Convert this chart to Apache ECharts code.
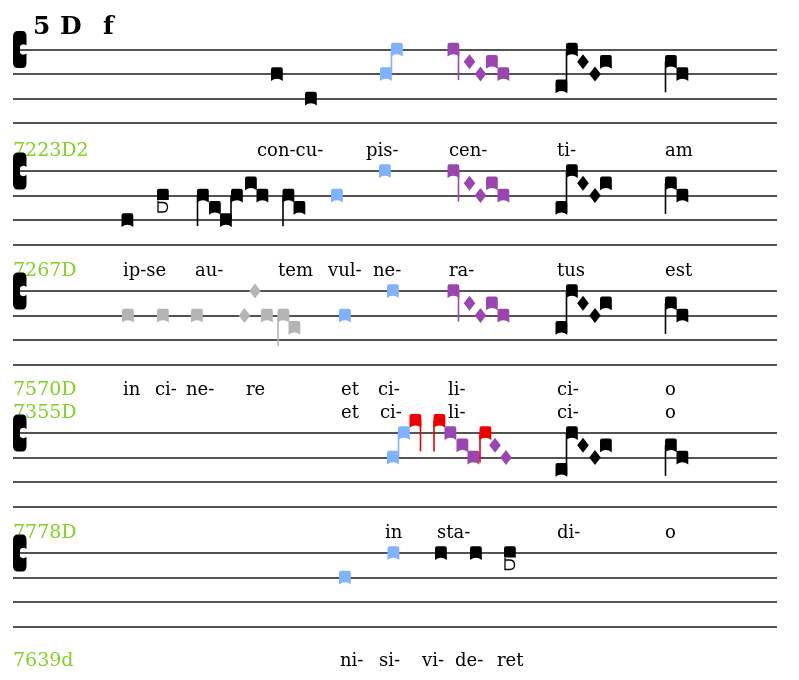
<!DOCTYPE html>
<html><head><meta charset="utf-8">
<script src="https://cdn.jsdelivr.net/npm/echarts@6/dist/echarts.min.js"></script>
<style>html,body{margin:0;padding:0;background:#fff}#c{width:799px;height:680px}</style>
</head><body><div id="c"></div>
<script>
// Each mark: [kind, x (staff axis position), pitch step (0 = bottom line, 6 = top line), colour, stem end pitch]
const staff1Marks = [
  ['clef', 13, 6, 'black'],
  ['punctum', 271, 4, 'black'], ['punctum', 305, 2, 'black'],
  ['punctum', 380, 4, 'blue'], ['stem', 391.5, 4, 'blue', 6], ['punctum', 391, 6, 'blue'],
  ['punctum', 447.5, 6, 'purple'], ['stem', 458.5, 6, 'purple', 3.5],
  ['diamond', 469.5, 5, 'purple'], ['diamond', 480.5, 4, 'purple'],
  ['punctum', 486, 5, 'purple'], ['punctum', 497.5, 4, 'purple'],
  ['punctum', 555.5, 3, 'black'], ['stem', 566.5, 6, 'black', 2.6], ['punctum', 566, 6, 'black'],
  ['diamond', 583, 5, 'black'], ['diamond', 595, 4, 'black'], ['punctum', 600, 5, 'black'],
  ['stem', 665.5, 5, 'black', 2.5], ['punctum', 665, 5, 'black'], ['punctum', 676.5, 4, 'black']
];
const staff2Marks = [
  ['clef', 13, 6, 'black'],
  ['punctum', 121.5, 2, 'black'], ['liquescent', 157, 4, 'black'],
  ['stem', 197.5, 4, 'black', 1.5], ['punctum', 197, 4, 'black'], ['punctum', 209, 3, 'black'], ['punctum', 220, 2, 'black'],
  ['stem', 231, 2, 'black', 4], ['punctum', 231, 4, 'black'],
  ['punctum', 245, 5, 'black'], ['punctum', 256.5, 4, 'black'],
  ['stem', 283, 4, 'black', 1.5], ['punctum', 282.5, 4, 'black'], ['punctum', 293.5, 3, 'black'],
  ['punctum', 331, 4, 'blue'], ['punctum', 379, 6, 'blue'],
  ['punctum', 447.5, 6, 'purple'], ['stem', 458.5, 6, 'purple', 3.5],
  ['diamond', 469.5, 5, 'purple'], ['diamond', 480.5, 4, 'purple'],
  ['punctum', 486, 5, 'purple'], ['punctum', 497.5, 4, 'purple'],
  ['punctum', 555.5, 3, 'black'], ['stem', 566.5, 6, 'black', 2.6], ['punctum', 566, 6, 'black'],
  ['diamond', 583, 5, 'black'], ['diamond', 595, 4, 'black'], ['punctum', 600, 5, 'black'],
  ['stem', 665.5, 5, 'black', 2.5], ['punctum', 665, 5, 'black'], ['punctum', 676.5, 4, 'black']
];
const staff3Marks = [
  ['clef', 13, 6, 'black'],
  ['punctum', 122, 4, 'gray'], ['punctum', 157, 4, 'gray'], ['punctum', 191, 4, 'gray'],
  ['diamond', 244.5, 4, 'gray'], ['diamond', 255, 6, 'gray'], ['punctum', 261, 4, 'gray'],
  ['stem', 278, 4, 'gray', 1.5], ['punctum', 277.5, 4, 'gray'], ['punctum', 288.5, 3, 'gray'],
  ['punctum', 339, 4, 'blue'], ['punctum', 387, 6, 'blue'],
  ['punctum', 447.5, 6, 'purple'], ['stem', 458.5, 6, 'purple', 3.5],
  ['diamond', 469.5, 5, 'purple'], ['diamond', 480.5, 4, 'purple'],
  ['punctum', 486, 5, 'purple'], ['punctum', 497.5, 4, 'purple'],
  ['punctum', 555.5, 3, 'black'], ['stem', 566.5, 6, 'black', 2.6], ['punctum', 566, 6, 'black'],
  ['diamond', 583, 5, 'black'], ['diamond', 595, 4, 'black'], ['punctum', 600, 5, 'black'],
  ['stem', 665.5, 5, 'black', 2.5], ['punctum', 665, 5, 'black'], ['punctum', 676.5, 4, 'black']
];
const staff4Marks = [
  ['clef', 13, 6, 'black'],
  ['punctum', 387, 4, 'blue'], ['stem', 398.5, 4, 'blue', 6], ['punctum', 398, 6, 'blue'],
  ['punctum', 409.5, 7, 'red'], ['stem', 420.5, 7, 'red', 4.5],
  ['stem', 434, 7, 'red', 4.5], ['punctum', 433.5, 7, 'red'],
  ['punctum', 444.5, 6, 'purple'], ['punctum', 456.5, 5, 'purple'], ['punctum', 467.5, 4, 'purple'],
  ['stem', 480, 6, 'red', 3.6], ['punctum', 479.5, 6, 'red'],
  ['diamond', 495, 5, 'purple'], ['diamond', 506, 4, 'purple'],
  ['punctum', 555.5, 3, 'black'], ['stem', 566.5, 6, 'black', 2.6], ['punctum', 566, 6, 'black'],
  ['diamond', 583, 5, 'black'], ['diamond', 595, 4, 'black'], ['punctum', 600, 5, 'black'],
  ['stem', 665.5, 5, 'black', 2.5], ['punctum', 665, 5, 'black'], ['punctum', 676.5, 4, 'black']
];
const staff5Marks = [
  ['clef', 13, 6, 'black'],
  ['punctum', 339, 4, 'blue'], ['punctum', 387.5, 6, 'blue'],
  ['punctum', 435, 6, 'black'], ['punctum', 470, 6, 'black'], ['liquescent', 504, 6, 'black']
];

// Header and lyric lines: [syllable, x]
const titleText = [['5', 33], ['D', 60], ['f', 103]];
const label2 = '7223D2';
const lyrics2 = [['con-cu-', 257], ['pis-', 366], ['cen-', 449], ['ti-', 557], ['am', 665]];
const label3 = '7267D';
const lyrics3 = [['ip-se', 123], ['au-', 195], ['tem', 278], ['vul-', 328], ['ne-', 373], ['ra-', 449], ['tus', 557], ['est', 665]];
const label4a = '7570D';
const lyrics4a = [['in', 123], ['ci-', 155], ['ne-', 186], ['re', 246], ['et', 341], ['ci-', 378], ['li-', 448], ['ci-', 557], ['o', 665]];
const label4b = '7355D';
const lyrics4b = [['et', 341], ['ci-', 380], ['li-', 448], ['ci-', 557], ['o', 665]];
const label5 = '7778D';
const lyrics5 = [['in', 385], ['sta-', 437], ['di-', 557], ['o', 665]];
const label6 = '7639d';
const lyrics6 = [['ni-', 340], ['si-', 379], ['vi-', 422], ['de-', 455], ['ret', 497]];

const COLORS = { black: '#000000', blue: '#80b3ff', purple: '#9b45b1', red: '#ee0000', gray: '#b4b4b4' };
const LABEL_COLOR = '#7fd320';
const FONT = '"DejaVu Serif", serif';

const staffTops = [49.5, 171, 291, 433, 553];
const STAFF_H = 73.5;
const LINE_ABOVE = 7.63, LINE_ABOVE2 = 9.5, LINE_BELOW = -2.82;

function textLine(label, syll, p) {
  const out = [];
  if (label) out.push({ t: label, x: 13, p: p, color: LABEL_COLOR, bold: false, size: 19 });
  syll.forEach(s => out.push({ t: s[0], x: s[1], p: p, color: '#000', bold: false, size: 18 }));
  return out;
}
const staffTexts = [
  titleText.map(s => ({ t: s[0], x: s[1], p: 7.8, color: '#000', bold: true, size: 25 })),
  textLine(label2, lyrics2, LINE_ABOVE),
  textLine(label3, lyrics3, LINE_ABOVE),
  textLine(label4a, lyrics4a, LINE_ABOVE2).concat(textLine(label4b, lyrics4b, LINE_ABOVE)),
  textLine(label5, lyrics5, LINE_ABOVE).concat(textLine(label6, lyrics6, LINE_BELOW))
];
const allMarks = [staff1Marks, staff2Marks, staff3Marks, staff4Marks, staff5Marks];

function punctumPath(x, y, w) {
  return 'M' + x + ',' + (y - 4.5) +
    'Q' + x + ',' + (y - 6.8) + ' ' + (x + 2) + ',' + (y - 6.8) +
    'L' + (x + w - 2) + ',' + (y - 6.8) +
    'Q' + (x + w) + ',' + (y - 6.8) + ' ' + (x + w) + ',' + (y - 4.5) +
    'L' + (x + w) + ',' + (y + 7) +
    'Q' + (x + w / 2) + ',' + (y + 2.3) + ' ' + x + ',' + (y + 7) + 'Z';
}
function clefPath(x, y) {
  return 'M' + x + ',' + (y - 13) +
    'Q' + x + ',' + (y - 18.5) + ' ' + (x + 5) + ',' + (y - 18.5) +
    'L' + (x + 10) + ',' + (y - 18.5) +
    'Q' + (x + 13.5) + ',' + (y - 18) + ' ' + (x + 13.5) + ',' + (y - 13) +
    'L' + (x + 13.5) + ',' + (y - 4) +
    'Q' + (x + 10) + ',' + (y - 6.5) + ' ' + (x + 7) + ',' + (y - 3.5) +
    'L' + (x + 7) + ',' + (y + 3.5) +
    'Q' + (x + 10) + ',' + (y + 6.5) + ' ' + (x + 13.5) + ',' + (y + 4) +
    'L' + (x + 13.5) + ',' + (y + 13) +
    'Q' + (x + 13.5) + ',' + (y + 18) + ' ' + (x + 10) + ',' + (y + 18.5) +
    'L' + (x + 5) + ',' + (y + 18.5) +
    'Q' + x + ',' + (y + 18.5) + ' ' + x + ',' + (y + 13) + 'Z';
}

function markRenderer(marks) {
  return function (params, api) {
    const m = marks[params.dataIndex];
    const kind = m[0], col = COLORS[m[3]];
    const pt = api.coord([m[1], m[2]]);
    const x = pt[0], y = pt[1];
    const W = 11.8;
    if (kind === 'punctum') {
      return { type: 'path', shape: { pathData: punctumPath(x, y, W) }, style: { fill: col } };
    }
    if (kind === 'diamond') {
      return { type: 'polygon', shape: { points: [[x, y - 7.5], [x + 5.8, y], [x, y + 7.5], [x - 5.8, y]] }, style: { fill: col } };
    }
    if (kind === 'stem') {
      const p2 = api.coord([m[1], m[4]]);
      return { type: 'line', shape: { x1: x, y1: y, x2: x, y2: p2[1] }, style: { stroke: col, lineWidth: 1.6 } };
    }
    if (kind === 'clef') {
      return { type: 'path', shape: { pathData: clefPath(x, y) }, style: { fill: col } };
    }
    if (kind === 'liquescent') {
      const top = 'M' + x + ',' + (y - 4.5) +
        'Q' + x + ',' + (y - 6.8) + ' ' + (x + 2) + ',' + (y - 6.8) +
        'L' + (x + W - 2) + ',' + (y - 6.8) +
        'Q' + (x + W) + ',' + (y - 6.8) + ' ' + (x + W) + ',' + (y - 4.5) +
        'L' + (x + W) + ',' + (y + 4.5) + 'L' + x + ',' + (y + 4.5) + 'Z';
      const bot = 'M' + (x + 1) + ',' + (y + 5) + 'L' + (x + 1) + ',' + (y + 16.5) +
        'L' + (x + 6) + ',' + (y + 16.5) +
        'Q' + (x + 10.5) + ',' + (y + 16.5) + ' ' + (x + 10.5) + ',' + (y + 11.5) +
        'Q' + (x + 10.5) + ',' + (y + 7) + ' ' + (x + 5) + ',' + (y + 7) +
        'L' + (x + 1) + ',' + (y + 7);
      return { type: 'group', children: [
        { type: 'path', shape: { pathData: top }, style: { fill: col } },
        { type: 'path', shape: { pathData: bot }, style: { fill: null, stroke: col, lineWidth: 1.3 } }
      ] };
    }
    return null;
  };
}
function textRenderer(items) {
  return function (params, api) {
    const it = items[params.dataIndex];
    const pt = api.coord([it.x, it.p]);
    return { type: 'text', x: pt[0], y: pt[1], style: {
      text: it.t, fill: it.color, textAlign: 'left', textVerticalAlign: 'middle',
      font: (it.bold ? 'bold ' : '') + it.size + 'px ' + FONT } };
  };
}

const grids = [], xAxes = [], yAxes = [], series = [];
staffTops.forEach((top, i) => {
  grids.push({ left: 13, right: 22, top: top, height: STAFF_H });
  xAxes.push({ gridIndex: i, type: 'value', min: 13, max: 777, show: false, splitLine: { show: false } });
  yAxes.push({ gridIndex: i, type: 'value', min: 0, max: 6, interval: 2,
    axisLine: { show: false }, axisTick: { show: false }, axisLabel: { show: false },
    splitLine: { show: true, lineStyle: { color: '#1a1a1a', width: 1.7 } } });
  series.push({ type: 'custom', xAxisIndex: i, yAxisIndex: i, clip: false, z: 2, silent: true,
    renderItem: textRenderer(staffTexts[i]), data: staffTexts[i].map(t => [t.x, t.p]) });
  series.push({ type: 'custom', xAxisIndex: i, yAxisIndex: i, clip: false, z: 3, silent: true,
    renderItem: markRenderer(allMarks[i]), data: allMarks[i].map(m => [m[1], m[2]]) });
});

const chart = echarts.init(document.getElementById('c'), null, { renderer: 'canvas' });
chart.setOption({ animation: false, backgroundColor: '#fff', grid: grids, xAxis: xAxes, yAxis: yAxes, series: series });
</script></body></html>
